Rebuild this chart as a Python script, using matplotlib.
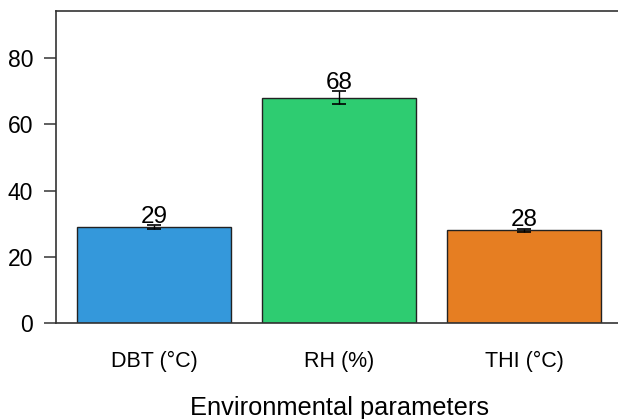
import matplotlib
matplotlib.use("Agg")
import matplotlib.pyplot as plt

categories = ["DBT (°C)", "RH (%)", "THI (°C)"]
means = [29, 68, 28]
errors = [0.5, 1.9, 0.5]
labels = ["29", "68", "28"]
colors = ["#3498db", "#2ecc71", "#e67e22"]

plt.rcParams['font.family'] = ['Liberation Sans', 'DejaVu Sans']

fig = plt.figure(figsize=(6.18, 4.19), dpi=100)
W, H = 618, 419
left, right, top, bottom = 56, 622, 11, 323
ax = fig.add_axes([left / W, 1 - bottom / H, (right - left) / W, (bottom - top) / H])

x = list(range(len(categories)))
ax.bar(x, means, width=0.832, color=colors, edgecolor="#222222", linewidth=1.0, zorder=2)
ax.errorbar(x, means, yerr=errors, fmt="none", ecolor="black", elinewidth=1.0,
            capsize=5, capthick=1.2, zorder=3)
for xi, m, e, lab in zip(x, means, errors, labels):
    ax.text(xi, m + e - 0.8, lab, ha="center", va="bottom", fontsize=17.5, zorder=4)

ax.set_xlim(-0.53, 2.53)
ax.set_ylim(0, 94.2)
ax.set_yticks([0, 20, 40, 60, 80])
ax.tick_params(axis="y", labelsize=16.5, length=8.5, width=1.2, color="#444444", pad=8)
ax.set_xticks(x)
ax.set_xticklabels(categories)
ax.tick_params(axis="x", length=0, labelsize=15.5, pad=20)
for s in ax.spines.values():
    s.set_color("#333333")
    s.set_linewidth(1.2)
ax.set_xlabel("Environmental parameters", fontsize=18.3, labelpad=17)

fig.savefig("out.png", dpi=100)
